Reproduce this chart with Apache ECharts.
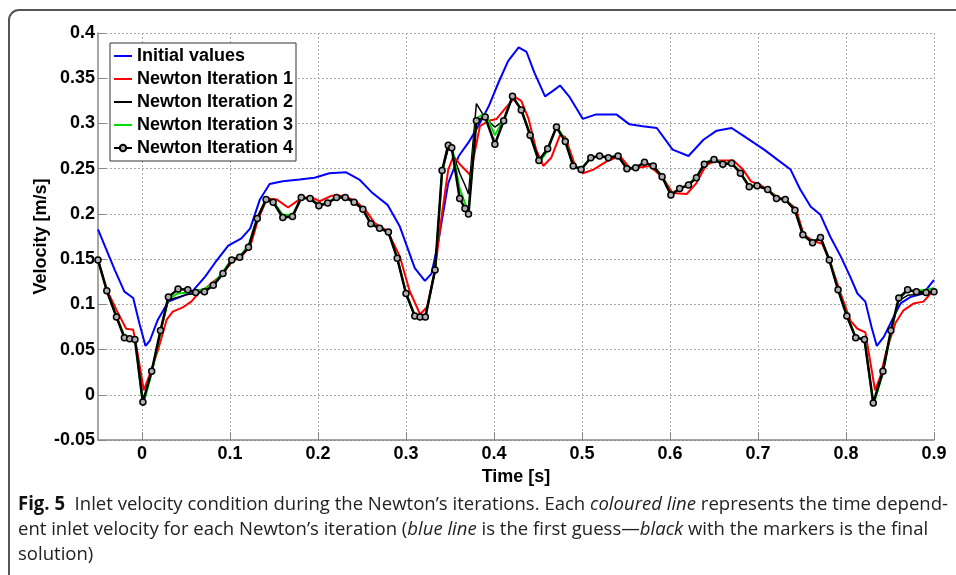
<!DOCTYPE html>
<html>
<head>
<meta charset="utf-8">
<script src="https://cdn.jsdelivr.net/npm/echarts@6/dist/echarts.min.js"></script>
<style>
  html, body { margin: 0; padding: 0; background: #fff; }
  #chart { width: 956px; height: 575px; }
</style>
</head>
<body>
<div id="chart"></div>
<script>
// Initial values (blue)
const initialTime = [-0.05, -0.031, -0.02, -0.01, -0.003, 0.004, 0.009, 0.018, 0.03, 0.056, 0.072, 0.083, 0.098, 0.113, 0.123, 0.134, 0.145, 0.16, 0.179, 0.196, 0.213, 0.232, 0.247, 0.262, 0.279, 0.293, 0.31, 0.3215, 0.329, 0.337, 0.348, 0.36, 0.371, 0.382, 0.394, 0.405, 0.416, 0.428, 0.437, 0.446, 0.458, 0.467, 0.475, 0.486, 0.501, 0.516, 0.539, 0.554, 0.569, 0.585, 0.603, 0.621, 0.638, 0.653, 0.67, 0.687, 0.701, 0.707, 0.722, 0.737, 0.748, 0.76, 0.771, 0.782, 0.794, 0.805, 0.813, 0.822, 0.829, 0.835, 0.843, 0.852, 0.862, 0.873, 0.888, 0.9];
const initialVel = [0.183, 0.138, 0.114, 0.107, 0.079, 0.054, 0.060, 0.083, 0.103, 0.113, 0.131, 0.146, 0.165, 0.173, 0.184, 0.216, 0.233, 0.236, 0.238, 0.240, 0.245, 0.246, 0.238, 0.223, 0.210, 0.186, 0.140, 0.126, 0.134, 0.171, 0.234, 0.264, 0.279, 0.297, 0.319, 0.345, 0.369, 0.384, 0.379, 0.356, 0.330, 0.336, 0.342, 0.329, 0.305, 0.310, 0.310, 0.299, 0.297, 0.295, 0.271, 0.264, 0.282, 0.292, 0.295, 0.284, 0.275, 0.271, 0.260, 0.249, 0.227, 0.208, 0.199, 0.175, 0.153, 0.130, 0.112, 0.103, 0.075, 0.054, 0.064, 0.082, 0.101, 0.108, 0.112, 0.127];

// Newton Iteration 1 (red)
const iter1Time = [-0.05, -0.039, -0.027, -0.018, -0.01, -0.005, 0.002, 0.009, 0.018, 0.028, 0.035, 0.047, 0.056, 0.064, 0.075, 0.091, 0.102, 0.113, 0.123, 0.132, 0.142, 0.153, 0.166, 0.179, 0.191, 0.202, 0.215, 0.228, 0.242, 0.255, 0.264, 0.279, 0.293, 0.304, 0.316, 0.324, 0.333, 0.341, 0.348, 0.354, 0.362, 0.373, 0.384, 0.394, 0.403, 0.413, 0.424, 0.431, 0.439, 0.448, 0.456, 0.465, 0.475, 0.481, 0.492, 0.501, 0.513, 0.528, 0.543, 0.555, 0.577, 0.592, 0.603, 0.619, 0.63, 0.641, 0.653, 0.672, 0.683, 0.692, 0.703, 0.722, 0.733, 0.743, 0.752, 0.763, 0.773, 0.782, 0.794, 0.805, 0.813, 0.822, 0.828, 0.833, 0.839, 0.846, 0.856, 0.865, 0.877, 0.888, 0.9];
const iter1Vel = [0.149, 0.114, 0.090, 0.073, 0.072, 0.046, 0.005, 0.023, 0.049, 0.083, 0.092, 0.097, 0.103, 0.112, 0.120, 0.133, 0.147, 0.153, 0.164, 0.194, 0.217, 0.216, 0.207, 0.216, 0.219, 0.214, 0.220, 0.220, 0.215, 0.203, 0.190, 0.181, 0.153, 0.115, 0.089, 0.097, 0.138, 0.201, 0.249, 0.264, 0.254, 0.243, 0.297, 0.303, 0.305, 0.317, 0.329, 0.325, 0.306, 0.271, 0.253, 0.262, 0.287, 0.285, 0.254, 0.245, 0.249, 0.258, 0.264, 0.250, 0.253, 0.240, 0.223, 0.222, 0.234, 0.254, 0.259, 0.259, 0.249, 0.236, 0.232, 0.219, 0.214, 0.206, 0.177, 0.170, 0.167, 0.147, 0.112, 0.082, 0.073, 0.069, 0.034, 0.005, 0.020, 0.049, 0.079, 0.093, 0.101, 0.103, 0.116];

// Newton Iterations 2-4 share the marker times
const iterTime = [-0.05, -0.04, -0.029, -0.02, -0.014, -0.008, 0.001, 0.011, 0.021, 0.03,
  0.041, 0.052, 0.061, 0.071, 0.081, 0.092, 0.102, 0.111, 0.121, 0.131, 0.141,
  0.149, 0.16, 0.171, 0.181, 0.191, 0.201, 0.211, 0.221, 0.231, 0.241, 0.251, 0.26, 0.27, 0.28, 0.29, 0.3,
  0.31, 0.316, 0.322, 0.333, 0.341, 0.348, 0.352, 0.361, 0.367, 0.371,
  0.38, 0.39, 0.401, 0.411, 0.421, 0.431, 0.441, 0.451, 0.461, 0.471, 0.481,
  0.49, 0.499, 0.51, 0.52, 0.53, 0.541, 0.551, 0.561, 0.571, 0.581, 0.591,
  0.601, 0.611, 0.621, 0.63, 0.639, 0.65, 0.66, 0.67, 0.68, 0.69, 0.699,
  0.711, 0.721, 0.731, 0.742, 0.751, 0.762, 0.771, 0.781, 0.791, 0.801,
  0.811, 0.821, 0.831, 0.842, 0.851, 0.86, 0.87, 0.88, 0.891, 0.9];
const iter2Vel = [0.149, 0.115, 0.086, 0.064, 0.063, 0.062, -0.010, 0.025, 0.070, 0.105,
  0.108, 0.111, 0.112, 0.115, 0.121, 0.134, 0.149, 0.152, 0.163, 0.195, 0.216,
  0.214, 0.197, 0.198, 0.218, 0.217, 0.210, 0.212, 0.218, 0.218, 0.213, 0.205, 0.189, 0.184, 0.180, 0.151, 0.112,
  0.087, 0.086, 0.086, 0.137, 0.246, 0.272, 0.270, 0.245, 0.232, 0.222,
  0.322, 0.306, 0.296, 0.303, 0.329, 0.315, 0.287, 0.258, 0.271, 0.296, 0.280,
  0.253, 0.249, 0.262, 0.264, 0.262, 0.264, 0.250, 0.251, 0.257, 0.253, 0.241,
  0.221, 0.228, 0.232, 0.240, 0.255, 0.260, 0.255, 0.256, 0.245, 0.230, 0.231,
  0.227, 0.217, 0.216, 0.204, 0.177, 0.168, 0.174, 0.149, 0.116, 0.087,
  0.063, 0.061, -0.010, 0.025, 0.070, 0.104, 0.110, 0.111, 0.112, 0.115];
const iter3Vel = [0.149, 0.115, 0.087, 0.065, 0.063, 0.062, -0.012, 0.024, 0.069, 0.106,
  0.112, 0.113, 0.115, 0.117, 0.123, 0.136, 0.150, 0.153, 0.165, 0.196, 0.216,
  0.214, 0.199, 0.199, 0.217, 0.217, 0.210, 0.213, 0.218, 0.218, 0.213, 0.205, 0.190, 0.184, 0.180, 0.152, 0.113,
  0.088, 0.085, 0.085, 0.137, 0.245, 0.278, 0.276, 0.228, 0.212, 0.203,
  0.306, 0.311, 0.287, 0.305, 0.329, 0.316, 0.289, 0.256, 0.270, 0.297, 0.282,
  0.254, 0.250, 0.262, 0.264, 0.263, 0.264, 0.251, 0.251, 0.257, 0.253, 0.242,
  0.222, 0.228, 0.233, 0.241, 0.256, 0.261, 0.256, 0.257, 0.246, 0.231, 0.231,
  0.227, 0.218, 0.216, 0.205, 0.177, 0.169, 0.174, 0.150, 0.117, 0.088,
  0.064, 0.062, -0.012, 0.024, 0.069, 0.106, 0.115, 0.115, 0.116, 0.118];
const iter4Vel = [0.149, 0.115, 0.086, 0.063, 0.062, 0.061, -0.008, 0.026, 0.071, 0.108,
  0.117, 0.116, 0.113, 0.114, 0.121, 0.134, 0.149, 0.152, 0.163, 0.195, 0.216,
  0.213, 0.196, 0.197, 0.218, 0.217, 0.209, 0.212, 0.218, 0.218, 0.213, 0.205, 0.189, 0.184, 0.180, 0.151, 0.112,
  0.087, 0.086, 0.086, 0.138, 0.248, 0.276, 0.273, 0.217, 0.206, 0.200,
  0.303, 0.307, 0.277, 0.303, 0.330, 0.315, 0.287, 0.259, 0.272, 0.296, 0.280,
  0.253, 0.249, 0.262, 0.264, 0.262, 0.264, 0.250, 0.251, 0.257, 0.253, 0.241,
  0.221, 0.228, 0.232, 0.240, 0.255, 0.260, 0.255, 0.256, 0.245, 0.230, 0.231,
  0.227, 0.217, 0.216, 0.204, 0.177, 0.168, 0.174, 0.149, 0.116, 0.087,
  0.063, 0.061, -0.009, 0.026, 0.071, 0.107, 0.116, 0.114, 0.113, 0.114];

const xTicks = [0, 0.1, 0.2, 0.3, 0.4, 0.5, 0.6, 0.7, 0.8, 0.9];
const seriesNames = ['Initial values', 'Newton Iteration 1', 'Newton Iteration 2', 'Newton Iteration 3', 'Newton Iteration 4'];

const captionLines = [
  '{b|Fig. 5}  Inlet velocity condition during the Newton\u2019s iterations. Each {i|coloured line} represents the time depend-',
  'ent inlet velocity for each Newton\u2019s iteration ({i|blue line} is the first guess\u2014{i|black} with the markers is the final',
  'solution)'
];

const zip = (ts, vs) => vs.map((v, i) => [ts[i], v]);
const boldFont = '"Liberation Sans", Arial, sans-serif';
const capFont = '"Open Sans", sans-serif';
const capSize = 19;

// squeeze the caption horizontally so the first line spans the same width as the figure's
function richWidth(line) {
    const ctx = document.createElement('canvas').getContext('2d');
    let w = 0;
    line.split(/(\{[bi]\|[^}]*\})/).forEach(part => {
        const m = part.match(/^\{([bi])\|([^}]*)\}$/);
        if (m) {
            ctx.font = (m[1] === 'b' ? 'bold ' : 'italic ') + capSize + 'px ' + capFont;
            w += ctx.measureText(m[2]).width;
        } else {
            ctx.font = capSize + 'px ' + capFont;
            w += ctx.measureText(part).width;
        }
    });
    return w;
}
const capScale = 930 / richWidth(captionLines[0]);

const chart = echarts.init(document.getElementById('chart'));

const lineSeries = (name, data, color, width) => ({
    name: name,
    type: 'line',
    data: data,
    symbol: 'none',
    lineStyle: { color: color, width: width },
    itemStyle: { color: color }
});

chart.setOption({
    animation: false,
    backgroundColor: '#fff',
    grid: { left: 98, right: 22, top: 33, bottom: 135, containLabel: false },
    legend: {
        orient: 'vertical',
        left: 110,
        top: 43,
        padding: [4, 3, 4, 3],
        itemWidth: 18,
        itemHeight: 8,
        itemGap: 5,
        backgroundColor: '#fff',
        borderColor: '#333',
        borderWidth: 1,
        borderRadius: 0,
        data: seriesNames.map((n, i) => i < 4 ? { name: n, itemStyle: { opacity: 0 } } : { name: n }),
        textStyle: { fontFamily: boldFont, fontWeight: 'bold', fontSize: 18, lineHeight: 18, color: '#000' }
    },
    xAxis: {
        type: 'value',
        min: -0.05,
        max: 0.9,
        name: 'Time [s]',
        nameLocation: 'middle',
        nameGap: 27,
        nameTextStyle: { fontFamily: boldFont, fontWeight: 'bold', fontSize: 18, color: '#000' },
        axisLine: { show: true, onZero: false, lineStyle: { color: '#888', width: 1.5 } },
        axisTick: { show: true, inside: true, length: 8, customValues: xTicks, lineStyle: { color: '#888' } },
        axisLabel: {
            customValues: xTicks,
            margin: 5,
            fontFamily: boldFont, fontWeight: 'bold', fontSize: 18, color: '#000',
            formatter: v => String(+v.toFixed(2))
        },
        splitLine: { show: true, lineStyle: { color: '#aaa', type: [2, 2], width: 1 } }
    },
    yAxis: {
        type: 'value',
        min: -0.05,
        max: 0.4,
        interval: 0.05,
        name: 'Velocity [m/s]',
        nameLocation: 'middle',
        nameMoveOverlap: false,
        nameGap: 48,
        nameTextStyle: { fontFamily: boldFont, fontWeight: 'bold', fontSize: 18, color: '#000' },
        axisLine: { show: true, onZero: false, lineStyle: { color: '#888', width: 1.5 } },
        axisTick: { show: true, inside: true, length: 8, lineStyle: { color: '#888' } },
        axisLabel: {
            margin: 3,
            fontFamily: boldFont, fontWeight: 'bold', fontSize: 18, color: '#000',
            formatter: v => String(+v.toFixed(2))
        },
        splitLine: { show: true, lineStyle: { color: '#aaa', type: [2, 2], width: 1 } }
    },
    series: [
        lineSeries(seriesNames[0], zip(initialTime, initialVel), '#0000ff', 2),
        lineSeries(seriesNames[1], zip(iter1Time, iter1Vel), '#ff0000', 2),
        lineSeries(seriesNames[2], zip(iterTime, iter2Vel), '#000000', 1.5),
        lineSeries(seriesNames[3], zip(iterTime, iter3Vel), '#00dd00', 2),
        {
            name: seriesNames[4],
            type: 'line',
            data: zip(iterTime, iter4Vel),
            symbol: 'circle',
            symbolSize: 6,
            showSymbol: true,
            lineStyle: { color: '#000', width: 2.5 },
            itemStyle: { color: '#b0b0b0', borderColor: '#000', borderWidth: 1.5 }
        }
    ],
    graphic: [
        {
            type: 'rect',
            silent: true,
            shape: { x: 9, y: 10, width: 1000, height: 700, r: 10 },
            style: { fill: 'none', stroke: '#555', lineWidth: 2 }
        },
        ...captionLines.map((line, i) => ({
            type: 'text',
            x: 18,
            y: 505 + i * 25,
            scaleX: capScale,
            silent: true,
            style: {
                text: line,
                verticalAlign: 'middle',
                align: 'left',
                fontFamily: capFont,
                fontSize: capSize,
                fill: '#222',
                rich: {
                    b: { fontFamily: capFont, fontSize: capSize, fontWeight: 'bold', fill: '#111' },
                    i: { fontFamily: capFont, fontSize: capSize, fontStyle: 'italic', fill: '#222' }
                }
            }
        }))
    ]
});
</script>
</body>
</html>
